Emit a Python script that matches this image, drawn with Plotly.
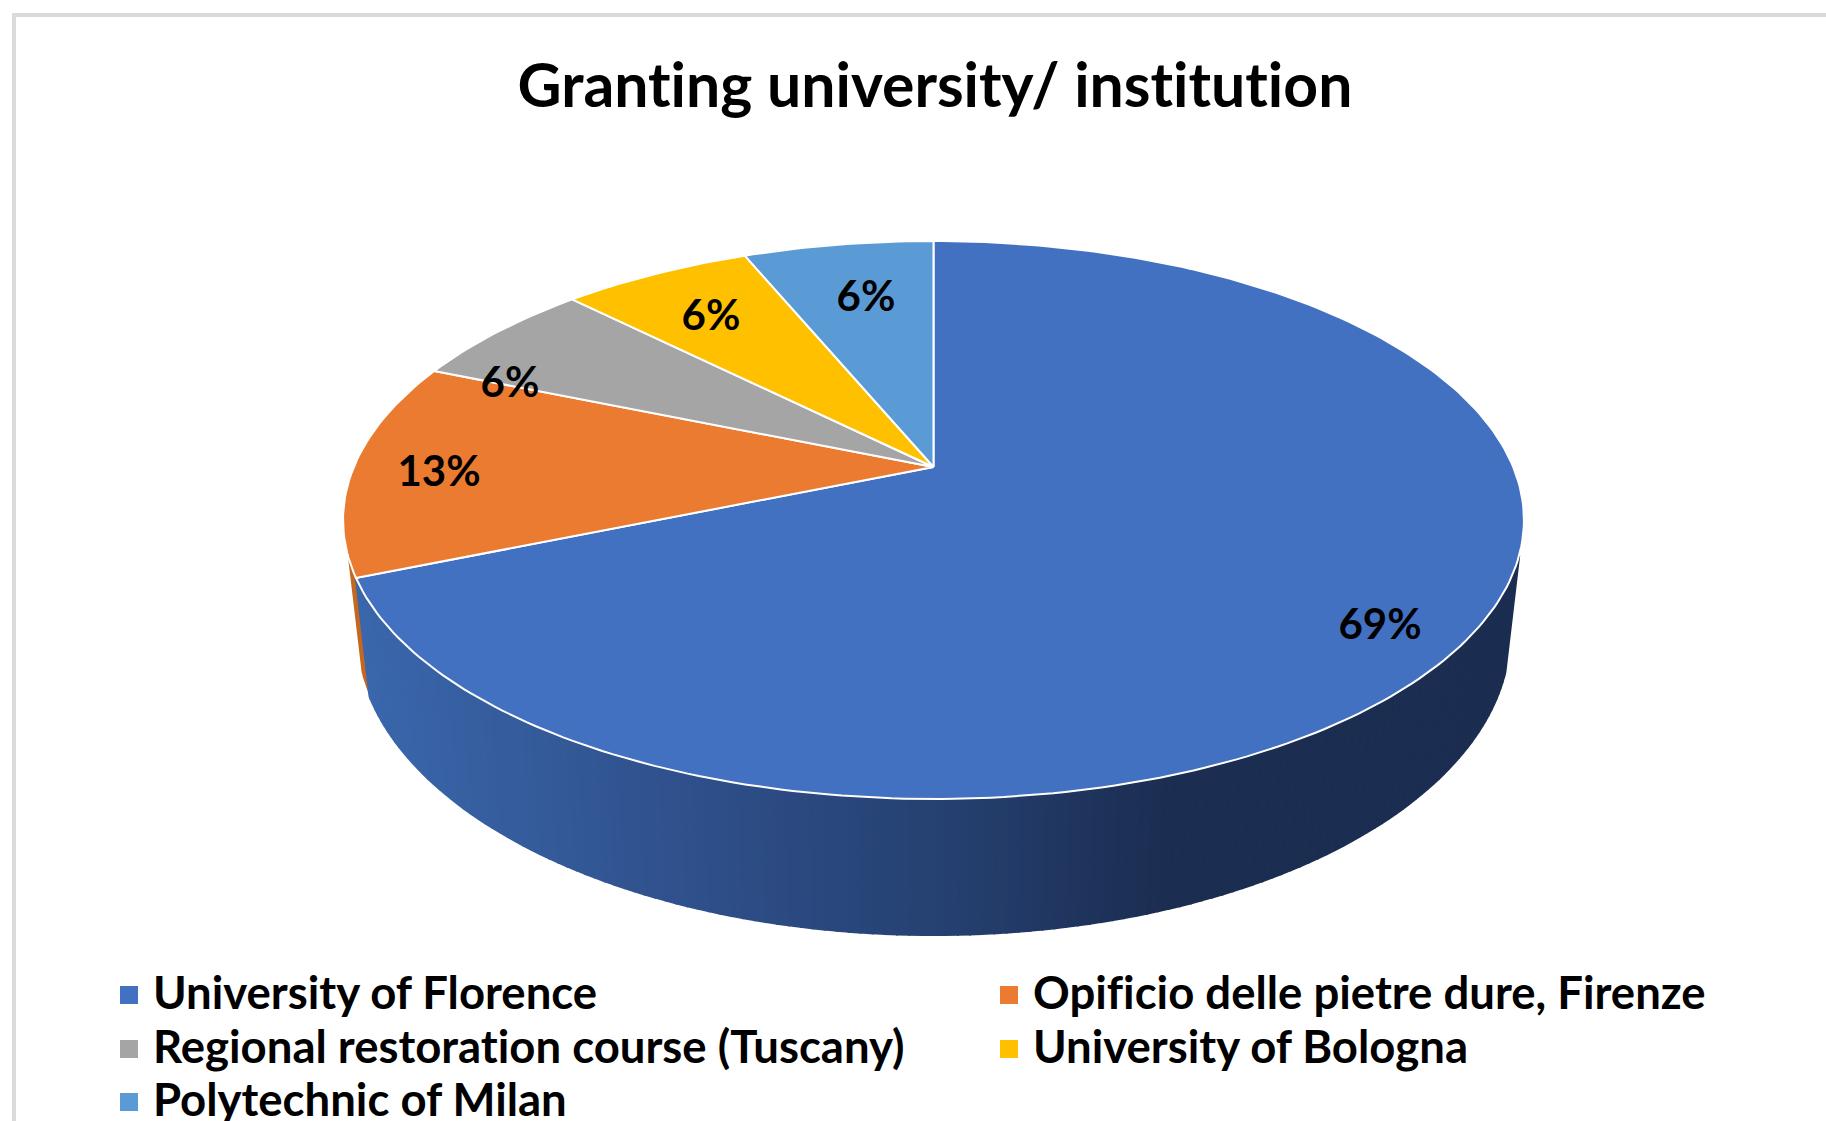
import math
import plotly.graph_objects as go

TITLE = "Granting university/ institution"
categories = ["University of Florence", "Opificio delle pietre dure, Firenze",
              "Regional restoration course (Tuscany)", "University of Bologna",
              "Polytechnic of Milan"]
counts = [11, 2, 1, 1, 1]
colors = ["#4371C1", "#EA7B30", "#A5A5A5", "#FFC000", "#5B9BD5"]
label_pos = [(1380, 628), (439, 475), (510, 386), (711, 319), (866, 300)]
key_cols = [129, 1009]
key_rows = [995, 1049, 1102]
KEY_TEXT_GAP = 24
KEY_TEXT_DROP = 3

W, H = 1826, 1121
CX = 933.5
K = 0.19
TOP = dict(a=467.0, b=268.9, c=579.7)
LOW = dict(a=577.0, b=290.0, c=566.0)
WALL_START = 108.0
ORANGE_WALL_END = 252.0
ORANGE_WALL = "#C4681F"
WALL_STOPS = [(367, (0x3A, 0x67, 0xAC)), (720, (0x2E, 0x4E, 0x88)),
              (950, (0x25, 0x40, 0x70)), (1165, (0x1B, 0x2D, 0x50)),
              (1530, (0x1B, 0x2D, 0x50))]


def project(deg, plane, r=1.0):
    t = math.radians(deg)
    u, v = r * math.sin(t), r * math.cos(t)
    d = 1 + K * v
    return CX + plane["c"] * u / d, plane["a"] - plane["b"] * v / d


def arc(a0, a1, plane, step=1.0):
    n = max(2, int(abs(a1 - a0) / step) + 1)
    return [project(a0 + (a1 - a0) * i / (n - 1), plane) for i in range(n)]


def wall_colour(x):
    if x <= WALL_STOPS[0][0]:
        c = WALL_STOPS[0][1]
    else:
        c = WALL_STOPS[-1][1]
        for (x0, c0), (x1, c1) in zip(WALL_STOPS, WALL_STOPS[1:]):
            if x0 <= x <= x1:
                f = (x - x0) / (x1 - x0)
                c = tuple(c0[i] + (c1[i] - c0[i]) * f for i in range(3))
                break
    return "rgb(%d,%d,%d)" % tuple(round(q) for q in c)


def poly(points, fill, line=None, width=0.0, name=None):
    xs = [p[0] for p in points] + [points[0][0]]
    ys = [p[1] for p in points] + [points[0][1]]
    return go.Scatter(x=xs, y=ys, mode="lines", fill="toself", fillcolor=fill,
                      line=dict(color=line or fill, width=width),
                      showlegend=False, hoverinfo="skip" if name is None else "text",
                      text=name)


total = sum(counts)
edges = [0.0]
for c in counts:
    edges.append(edges[-1] + 360.0 * c / total)

fig = go.Figure()

# side wall: orange sliver, then the shaded blue wall as narrow strips
blue_end = edges[1]
fig.add_trace(poly(arc(blue_end, ORANGE_WALL_END, TOP) + arc(ORANGE_WALL_END, blue_end, LOW),
                   ORANGE_WALL))
STRIP = 1.0
a = WALL_START
while a < blue_end - 1e-6:
    b = min(a + STRIP, blue_end)
    pts = arc(a, b, TOP) + arc(b, a, LOW)
    mx = project((a + b) / 2, LOW)[0]
    fig.add_trace(poly(pts, wall_colour(mx), width=2.0))
    a = b

# top faces
for i, cat in enumerate(categories):
    apex = (CX, TOP["a"])
    pts = [apex] + arc(edges[i], edges[i + 1], TOP)
    fig.add_trace(poly(pts, colors[i], line="#FFFFFF", width=2.0, name=cat))

# data labels
labels = ["%d%%" % math.floor(100.0 * c / total + 0.5) for c in counts]
fig.add_trace(go.Scatter(x=[p[0] for p in label_pos], y=[p[1] for p in label_pos],
                         mode="text", text=labels, textposition="middle center",
                         textfont=dict(family="Lato", size=42, color="#000000", weight=700),
                         showlegend=False, hoverinfo="skip"))

# key: swatch and text per category, two columns
for i, (cat, col) in enumerate(zip(categories, colors)):
    kx, ky = key_cols[i % 2], key_rows[i // 2]
    fig.add_trace(go.Scatter(x=[kx], y=[ky], mode="markers", name=cat, showlegend=False,
                             marker=dict(symbol="square", size=18, color=col),
                             hoverinfo="name"))
    fig.add_trace(go.Scatter(x=[kx + KEY_TEXT_GAP], y=[ky + KEY_TEXT_DROP], mode="text", text=[cat],
                             textposition="middle right", showlegend=False, hoverinfo="skip",
                             textfont=dict(family="Lato", size=45.5, color="#000000", weight=700)))

fig.update_layout(
    width=W, height=H, autosize=False, showlegend=False,
    margin=dict(l=0, r=0, t=0, b=0, autoexpand=False),
    paper_bgcolor="#FFFFFF", plot_bgcolor="#FFFFFF",
    xaxis=dict(range=[0, W], visible=False, fixedrange=True),
    yaxis=dict(range=[H, 0], visible=False, fixedrange=True),
    title=dict(text=TITLE, x=935 / W, y=1 - 86 / H, xanchor="center", yanchor="middle",
               font=dict(family="Lato", size=60.7, color="#000000", weight=700)),
    shapes=[dict(type="line", xref="x", yref="y", x0=14, x1=W, y0=15, y1=15,
                 line=dict(color="#DADADA", width=4)),
            dict(type="line", xref="x", yref="y", x0=14, x1=14, y0=13, y1=H,
                 line=dict(color="#DADADA", width=4))],
)
POST = ("document.body.style.margin='0';document.documentElement.style.overflow='hidden';"
        "var s=document.createElement('style');"
        "s.textContent='svg text{font-variant-ligatures:none!important;"
        "font-feature-settings:\"liga\" 0,\"clig\" 0!important}';document.head.appendChild(s);")
fig.write_html("out.html", config={"displayModeBar": False}, post_script=POST)
